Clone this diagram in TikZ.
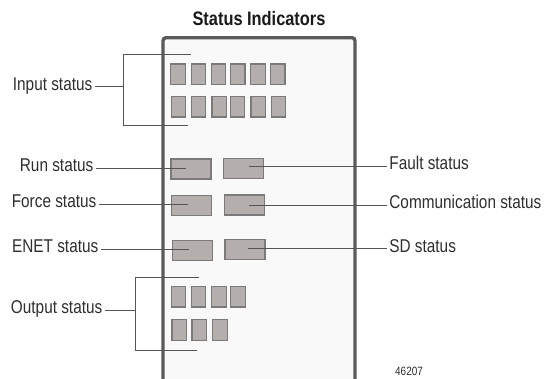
\documentclass[tikz,border=0pt]{standalone}
\usepackage{fontspec}
\setmainfont[FakeStretch=0.83]{Liberation Sans}
\newfontfamily\titlefont[FakeStretch=0.84]{Liberation Sans}
\usetikzlibrary{calc}
\definecolor{panelfill}{HTML}{F9F9F9}
\definecolor{panelline}{HTML}{5A5A5A}
\definecolor{ledfill}{HTML}{B4AEAC}
\definecolor{ledline}{HTML}{7A7A7A}
\definecolor{conncol}{HTML}{555555}
\definecolor{txtcol}{HTML}{2E2E2E}
\begin{document}
\begin{tikzpicture}[x=1pt,y=-1pt,
  led/.style={draw=ledline,fill=ledfill,line width=1.1pt,inner sep=0pt,minimum width=14.5pt,minimum height=20.5pt},
  wled/.style={led,minimum width=40pt,minimum height=20pt},
  lbl/.style={font=\fontsize{18.5}{22}\selectfont,text=txtcol,inner xsep=2.5pt,inner ysep=0pt,text height=0.72em,text depth=0pt},
  conn/.style={draw=conncol,line width=0.8pt},
  panel/.style={draw=panelline,line width=3.4pt,fill=panelfill,rounded corners=3pt}]
\useasboundingbox (0,0) rectangle (546,378);
% panel
\draw[panel] (163,384) -- (163,37.7) -- (355,37.7) -- (355,384);
% title
\node[font=\titlefont\bfseries\fontsize{19.5}{23}\selectfont,text=black!90,inner sep=0pt,anchor=base] (title) at (259,25.7) {Status Indicators};
% input LEDs
\foreach \i/\x in {1/178,2/198.3,3/218.5,4/237.7,5/257.9,6/277.7}{
  \node[led] (ia\i) at (\x,74.2) {};
}
\foreach \i/\x in {1/178.3,2/198.5,3/219.2,4/237.5,5/258.2,6/278.4}{
  \node[led] (ib\i) at (\x,106.7) {};
}
% output LEDs
\foreach \i/\x in {1/178.3,2/198.3,3/218.8,4/238}{
  \node[led] (oa\i) at (\x,296.7) {};
}
\foreach \i/\x in {1/179.2,2/199.2,3/219.8}{
  \node[led] (ob\i) at (\x,329.8) {};
}
% wide LEDs
\node[wled] (run) at (191,169) {};
\node[wled] (fault) at (243.7,168.7) {};
\node[wled] (force) at (191.7,205.8) {};
\node[wled] (comm) at (244.3,205) {};
\node[wled] (enet) at (192.3,250.3) {};
\node[wled] (sd) at (245,249.7) {};
% labels
\node[lbl,anchor=east] (inlbl) at (95,86.5) {Input status};
\node[lbl,anchor=east] (runlbl) at (96,168) {Run status};
\node[lbl,anchor=east] (forcelbl) at (99,204) {Force status};
\node[lbl,anchor=east] (enetlbl) at (101,249) {ENET status};
\node[lbl,anchor=east] (outlbl) at (105,310) {Output status};
\node[lbl,anchor=west] (faultlbl) at (386.7,166) {Fault status};
\node[lbl,anchor=west] (commlbl) at (386.7,205) {Communication status};
\node[lbl,anchor=west] (sdlbl) at (386.7,248.5) {SD status};
\node[font=\fontsize{12}{14}\selectfont,text=txtcol,inner sep=0pt,anchor=base west] (num) at (395,375.5) {46207};
% connectors
\draw[conn] (runlbl.east) -- ($(runlbl.east -| run.center)+(-5.3,0)$);
\draw[conn] (forcelbl.east) -- ($(forcelbl.east -| force.center)+(-4,0)$);
\draw[conn] (enetlbl.east) -- ($(enetlbl.east -| enet.center)+(-3,0)$);
\draw[conn] ($(faultlbl.west -| fault.center)+(5.6,0)$) -- (faultlbl.west);
\draw[conn] ($(commlbl.west -| comm.center)+(5,0)$) -- (commlbl.west);
\draw[conn] ($(sdlbl.west -| sd.center)+(2.7,0)$) -- (sdlbl.west);
% input bracket
\coordinate (inbr) at (123.3,86.5);
\coordinate (intop) at (190.7,54.3);
\coordinate (inbot) at (188.3,125.3);
\draw[conn] (inlbl.east) -- (inbr);
\draw[conn] (intop) -- (intop -| inbr) -- (inbot -| inbr) -- (inbot);
% output bracket
\coordinate (outbr) at (135.7,310);
\coordinate (outtop) at (199.3,277.3);
\coordinate (outbot) at (196.7,350.3);
\draw[conn] (outlbl.east) -- (outbr);
\draw[conn] (outtop) -- (outtop -| outbr) -- (outbot -| outbr) -- (outbot);
\end{tikzpicture}
\end{document}
